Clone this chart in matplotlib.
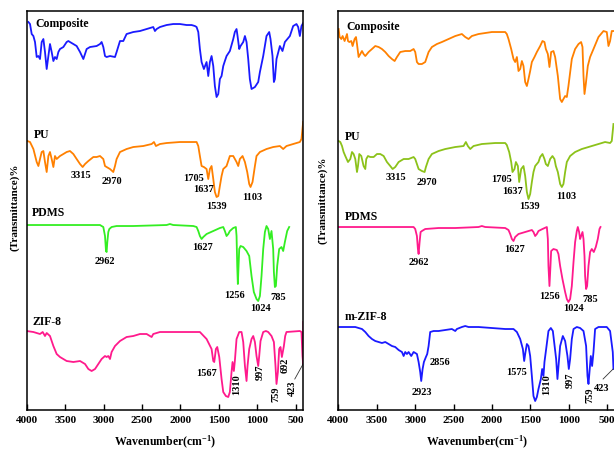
import matplotlib
matplotlib.use('Agg')
import matplotlib.pyplot as plt

plt.rcParams['font.family'] = ['Liberation Serif', 'DejaVu Serif']
plt.rcParams['font.weight'] = 'bold'
plt.rcParams['mathtext.fontset'] = 'custom'
plt.rcParams['mathtext.rm'] = 'Liberation Serif:bold'
plt.rcParams['mathtext.bf'] = 'Liberation Serif:bold'
plt.rcParams['mathtext.it'] = 'Liberation Serif:bold'

# ---------------- left panel spectra (wavenumber, transmittance a.u.) ----------------
comp_wn = [3978, 3957, 3935, 3913, 3892, 3870, 3848, 3827, 3805, 3783, 3762, 3740, 3718, 3697, 3675, 3653,
           3632, 3610, 3588, 3567, 3523, 3480, 3458, 3437, 3393, 3350, 3306, 3263, 3220, 3176, 3090, 3046,
           3025, 3003, 2981, 2960, 2916, 2851, 2830, 2786, 2743, 2700, 2613, 2526, 2439, 2353, 2331, 2309,
           2266, 2179, 2093, 2006, 1919, 1854, 1811, 1789, 1767, 1746, 1724, 1694, 1659, 1637, 1616, 1594,
           1572, 1551, 1529, 1507, 1486, 1464, 1442, 1421, 1399, 1356, 1312, 1291, 1269, 1256, 1234, 1217,
           1182, 1160, 1139, 1117, 1096, 1074, 1030, 987, 965, 922, 879, 844, 827, 801, 783, 770, 749, 705,
           671, 640, 575, 532, 489, 467, 445, 424, 402]
comp_t = [387, 385, 375, 373, 367, 352, 353, 350, 367, 370, 357, 340, 353, 365, 357, 348,
          352, 350, 357, 360, 362, 367, 368, 367, 365, 363, 357, 350, 360, 362, 363, 365,
          367, 362, 353, 352, 353, 352, 357, 368, 368, 375, 377, 378, 380, 382, 378, 380,
          382, 384, 385, 385, 384, 384, 383, 382, 377, 360, 347, 340, 347, 333, 347, 353,
          343, 323, 312, 315, 330, 333, 343, 348, 353, 358, 370, 377, 380, 373, 360, 363,
          367, 373, 367, 350, 330, 320, 322, 327, 337, 353, 373, 377, 370, 353, 327, 330, 350, 363,
          358, 367, 373, 383, 385, 382, 373, 383, 386]

pu_wn = [3991, 3957, 3913, 3870, 3848, 3827, 3805, 3783, 3762, 3740, 3718, 3697, 3675, 3653, 3632, 3610,
         3567, 3523, 3480, 3437, 3393, 3350, 3306, 3272, 3241, 3198, 3133, 3090, 3046, 3003, 2981, 2960,
         2916, 2873, 2851, 2830, 2786, 2700, 2613, 2483, 2374, 2344, 2318, 2266, 2179, 2006, 1832, 1789,
         1767, 1746, 1724, 1694, 1659, 1637, 1616, 1594, 1572, 1551, 1529, 1507, 1486, 1464, 1442, 1399,
         1356, 1312, 1269, 1247, 1226, 1191, 1160, 1130, 1104, 1087, 1061, 1030, 1009, 965, 879, 792,
         705, 662, 619, 532, 445, 424, 402]
pu_t = [268, 267, 260, 247, 243, 250, 257, 258, 247, 237, 253, 257, 250, 242, 253, 250,
        253, 255, 257, 258, 255, 250, 245, 242, 245, 248, 252, 252, 253, 250, 243, 242,
        240, 237, 243, 250, 257, 260, 262, 263, 265, 267, 263, 265, 266, 267, 267, 267,
        263, 253, 243, 242, 240, 230, 240, 243, 230, 217, 212, 213, 223, 233, 240, 243,
        253, 253, 247, 243, 250, 253, 247, 237, 225, 222, 227, 243, 253, 257, 260, 262,
        263, 260, 263, 265, 267, 270, 287]

pdms_wn = [4000, 3046, 3025, 3003, 2981, 2968, 2960, 2951, 2938, 2925, 2895, 2830, 2613, 2179, 2136, 2093,
           1832, 1789, 1767, 1746, 1724, 1702, 1659, 1572, 1486, 1442, 1421, 1399, 1377, 1356, 1312, 1278,
           1269, 1260, 1252, 1243, 1234, 1217, 1182, 1139, 1104, 1074, 1044, 1009, 987, 965, 944, 922,
           900, 879, 857, 835, 814, 792, 783, 770, 757, 740, 714, 684, 662, 640, 610, 584]
pdms_t = [184, 184, 183, 182, 173, 158, 157, 167, 177, 180, 182, 183, 183, 184, 185, 184,
          183, 182, 178, 173, 170, 172, 175, 178, 181, 182, 178, 173, 175, 178, 181, 182,
          173, 143, 125, 143, 160, 163, 162, 158, 153, 133, 117, 110, 108, 113, 133, 160,
          177, 183, 180, 170, 178, 160, 137, 122, 123, 143, 160, 162, 158, 167, 178, 182]

zif_wn = [4000, 3913, 3827, 3792, 3762, 3740, 3697, 3653, 3610, 3567, 3480, 3393, 3306, 3241, 3198, 3155,
          3111, 3068, 3025, 2981, 2960, 2938, 2916, 2895, 2851, 2786, 2700, 2613, 2526, 2439, 2396, 2374,
          2353, 2266, 2179, 1919, 1832, 1746, 1659, 1594, 1572, 1559, 1538, 1520, 1494, 1464, 1442, 1408,
          1377, 1356, 1334, 1321, 1304, 1291, 1269, 1234, 1204, 1182, 1160, 1139, 1126, 1104, 1074, 1052,
          1030, 1009, 987, 974, 957, 922, 887, 857, 814, 783, 762, 749, 731, 714, 697, 679, 653, 636,
          619, 445, 424, 411, 402, 400]
zif_t = [78, 77, 75, 77, 73, 76, 73, 63, 55, 52, 48, 47, 48, 45, 40, 38,
         40, 45, 50, 53, 52, 53, 50, 57, 63, 68, 72, 73, 75, 75, 73, 72,
         75, 77, 77, 77, 77, 77, 70, 60, 48, 47, 60, 62, 52, 30, 17, 13,
         12, 17, 37, 47, 38, 48, 70, 77, 77, 67, 43, 28, 43, 60, 70, 73,
         67, 53, 43, 53, 68, 77, 78, 77, 73, 67, 43, 25, 37, 60, 62, 52, 63, 73,
         77, 78, 77, 53, 45, 87]

# ---------------- right panel spectra ----------------
comp2_wn = [3996, 3983, 3961, 3944, 3918, 3900, 3887, 3874, 3857, 3831, 3814, 3788, 3770, 3757, 3736, 3714,
            3692, 3671, 3649, 3606, 3562, 3519, 3475, 3432, 3389, 3345, 3302, 3267, 3237, 3194, 3129, 3064,
            3020, 2999, 2977, 2955, 2912, 2869, 2825, 2782, 2717, 2652, 2565, 2478, 2392, 2348, 2305, 2262,
            2175, 2002, 1828, 1807, 1785, 1750, 1720, 1698, 1676, 1655, 1633, 1611, 1590, 1568, 1546, 1525,
            1503, 1481, 1447, 1416, 1373, 1343, 1317, 1299, 1273, 1252, 1230, 1200, 1178, 1143, 1113, 1091,
            1070, 1048, 1026, 1005, 961, 918, 874, 840, 822, 809, 796, 779, 753, 723, 679, 614, 549, 506,
            484, 463, 441, 419]
comp2_t = [380, 372, 370, 373, 368, 372, 375, 368, 367, 368, 363, 370, 372, 365, 352, 355,
           358, 355, 353, 357, 360, 363, 362, 360, 357, 353, 350, 348, 352, 357, 358, 358,
           360, 357, 347, 345, 345, 347, 357, 362, 365, 367, 370, 373, 375, 372, 370, 373,
           375, 377, 377, 375, 370, 360, 350, 347, 352, 338, 340, 348, 343, 327, 323, 330,
           338, 347, 352, 357, 363, 368, 367, 360, 355, 342, 357, 358, 352, 333, 310, 307,
           310, 313, 312, 323, 350, 360, 365, 367, 362, 333, 315, 325, 343, 352, 360, 372, 378, 377,
           363, 368, 378, 378]

pu2_wn = [3996, 3974, 3952, 3931, 3909, 3874, 3844, 3822, 3801, 3779, 3757, 3744, 3727, 3701, 3671, 3649,
          3636, 3614, 3584, 3540, 3497, 3454, 3410, 3367, 3324, 3293, 3259, 3215, 3150, 3085, 3020, 2999,
          2977, 2955, 2912, 2877, 2860, 2825, 2782, 2695, 2608, 2478, 2370, 2340, 2314, 2283, 2240, 2132,
          1958, 1828, 1807, 1776, 1750, 1733, 1707, 1689, 1663, 1646, 1620, 1590, 1568, 1546, 1525, 1503,
          1481, 1460, 1438, 1395, 1373, 1343, 1317, 1299, 1273, 1243, 1213, 1187, 1169, 1143, 1113, 1091,
          1070, 1048, 1026, 983, 918, 831, 744, 701, 614, 528, 463, 441, 419]
pu2_t = [268, 267, 263, 257, 253, 247, 250, 257, 255, 250, 237, 243, 255, 253, 243, 240,
         250, 253, 252, 252, 255, 255, 253, 247, 243, 240, 242, 247, 250, 250, 252, 250,
         245, 240, 238, 237, 242, 250, 255, 258, 260, 262, 263, 267, 263, 260, 263, 265,
         266, 266, 264, 257, 247, 237, 240, 247, 243, 227, 240, 243, 233, 217, 210, 215,
         227, 237, 243, 247, 252, 255, 250, 245, 243, 250, 253, 250, 243, 237, 225, 222,
         225, 237, 247, 253, 257, 260, 262, 263, 265, 267, 266, 268, 285]

pdms2_wn = [3996, 3020, 2999, 2977, 2964, 2955, 2942, 2929, 2912, 2869, 2695, 2478, 2175, 2132, 2088, 1828,
            1785, 1763, 1741, 1720, 1698, 1655, 1568, 1481, 1460, 1438, 1416, 1395, 1343, 1286, 1273, 1265,
            1252, 1239, 1230, 1200, 1156, 1135, 1113, 1083, 1048, 1026, 1005, 983, 961, 939, 918, 896,
            883, 866, 853, 840, 822, 809, 796, 788, 775, 762, 744, 723, 701, 675, 649, 623, 601, 588]
pdms2_t = [182, 182, 180, 173, 160, 155, 167, 177, 178, 180, 181, 181, 182, 183, 182, 181,
           179, 175, 170, 168, 172, 175, 177, 179, 177, 173, 175, 178, 180, 182, 170, 143,
           123, 143, 158, 160, 159, 155, 143, 130, 117, 110, 107, 110, 123, 147, 167, 178,
           182, 177, 170, 173, 177, 170, 153, 133, 120, 123, 143, 157, 160, 157, 162, 170, 180, 182]

mzif_wn = [3996, 3779, 3692, 3649, 3606, 3562, 3519, 3475, 3432, 3389, 3345, 3302, 3259, 3215, 3172, 3150,
           3129, 3107, 3085, 3051, 3020, 2977, 2955, 2934, 2921, 2903, 2886, 2860, 2843, 2825, 2804, 2760,
           2695, 2608, 2522, 2478, 2457, 2392, 2348, 2305, 2175, 2002, 1828, 1720, 1676, 1633, 1598, 1581,
           1564, 1546, 1525, 1503, 1481, 1460, 1438, 1416, 1395, 1364, 1347, 1330, 1317, 1295, 1265, 1234,
           1208, 1191, 1165, 1148, 1130, 1113, 1078, 1048, 1018, 1000, 983, 961, 939, 896, 853, 809,
           775, 757, 744, 731, 714, 697, 679, 658, 614, 506, 463, 428, 419]
mzif_t = [82, 82, 80, 77, 73, 70, 68, 67, 66, 67, 65, 63, 62, 59, 57, 53,
          57, 55, 57, 53, 57, 55, 47, 37, 28, 40, 47, 52, 55, 63, 77, 78,
          78, 79, 80, 78, 80, 82, 83, 82, 82, 81, 80, 80, 77, 70, 60, 48,
          57, 65, 63, 53, 33, 13, 8, 12, 20, 30, 40, 33, 47, 60, 78, 81,
          78, 67, 50, 30, 47, 63, 73, 68, 53, 40, 50, 70, 80, 82, 81, 78,
          63, 33, 25, 37, 53, 43, 57, 80, 82, 82, 78, 57, 40]

# ---------------- labels ----------------
left_names = [('Composite', 3892, 386), ('PU', 3913, 275), ('PDMS', 3927, 197), ('ZIF-8', 3927, 88)]
right_names = [('Composite', 3891, 383), ('PU', 3913, 273), ('PDMS', 3913, 193), ('m-ZIF-8', 3922, 93)]

left_peaks = [('3315', 3298, 235), ('2970', 2887, 229), ('1705', 1833, 232), ('1637', 1698, 221),
              ('1539', 1529, 204), ('1103', 1061, 213),
              ('2962', 2982, 149), ('1627', 1711, 163), ('1256', 1291, 115), ('1024', 962, 102),
              ('785', 723, 113), ('1567', 1655, 37)]
left_vpeaks = [('1310', 1269, 25), ('997', 966, 38), ('759', 758, 16), ('692', 637, 45), ('423', 541, 22)]
left_pointer = ([511, 403], [30, 45])

right_peaks = [('3315', 3254, 233), ('2970', 2850, 228), ('1705', 1875, 231), ('1637', 1737, 219),
               ('1539', 1507, 204), ('1103', 1030, 214),
               ('2962', 2950, 148), ('1627', 1702, 161), ('1256', 1247, 114), ('1024', 944, 102),
               ('785', 727, 111), ('2856', 2677, 48), ('2923', 2916, 18), ('1575', 1680, 38), ('423', 575, 22)]
right_vpeaks = [('1310', 1290, 25), ('997', 978, 30), ('759', 727, 15)]
right_pointer = ([554, 424], [30, 40])

xticks = [4000, 3500, 3000, 2500, 2000, 1500, 1000, 500]

blue = '#1a1aff'
orange = '#ff8000'
green = '#33ee22'
pink = '#ff1a8c'
lime = '#8cc21a'


def draw_panel(ax, spectra, names, peaks, vpeaks, pointer, ylab_x, ylab_y):
    for wn, t, c in spectra:
        ax.plot(wn, t, color=c, lw=1.3)
    for s, x, y in names:
        ax.text(x, y, s, fontsize=8.5, fontweight='bold', ha='left', va='center')
    for s, x, y in peaks:
        ax.text(x, y, s, fontsize=7.5, fontweight='bold', ha='center', va='center')
    for s, x, y in vpeaks:
        ax.text(x, y, s, fontsize=7.5, fontweight='bold', ha='center', va='center', rotation=90)
    ax.plot(pointer[0], pointer[1], color='#333333', lw=0.6)
    ax.set_xlim(4000, 400)
    ax.set_ylim(-0.5, 398)
    ax.set_xticks(xticks)
    ax.set_yticks([])
    ax.tick_params(axis='x', direction='in', length=4, width=1, labelsize=8, pad=4)
    for lbl in ax.get_xticklabels():
        lbl.set_fontweight('bold')
    for sp in ax.spines.values():
        sp.set_linewidth(1.1)
    ax.set_xlabel('Wavenumber(cm$^{-1}$)', fontsize=8.5, fontweight='bold')
    ax.xaxis.label.set_va('center')
    ax.xaxis.set_label_coords(0.5, -0.08)
    ax.set_ylabel('(Transmittance)%', fontsize=8, fontweight='bold')
    ax.yaxis.label.set_va('center')
    ax.yaxis.set_label_coords(ylab_x, ylab_y)


fig = plt.figure(figsize=(6.14, 4.52), dpi=100)
ax1 = fig.add_axes([0.0435, 0.0918, 0.4505, 0.8816])
ax2 = fig.add_axes([0.551, 0.0918, 0.4505, 0.8816])

draw_panel(ax1, [(comp_wn, comp_t, blue), (pu_wn, pu_t, orange), (pdms_wn, pdms_t, green), (zif_wn, zif_t, pink)],
           left_names, left_peaks, left_vpeaks, left_pointer, -0.042, 0.511)
draw_panel(ax2, [(comp2_wn, comp2_t, orange), (pu2_wn, pu2_t, lime), (pdms2_wn, pdms2_t, pink), (mzif_wn, mzif_t, blue)],
           right_names, right_peaks, right_vpeaks, right_pointer, -0.055, 0.528)

fig.savefig('out.png', dpi=100)
